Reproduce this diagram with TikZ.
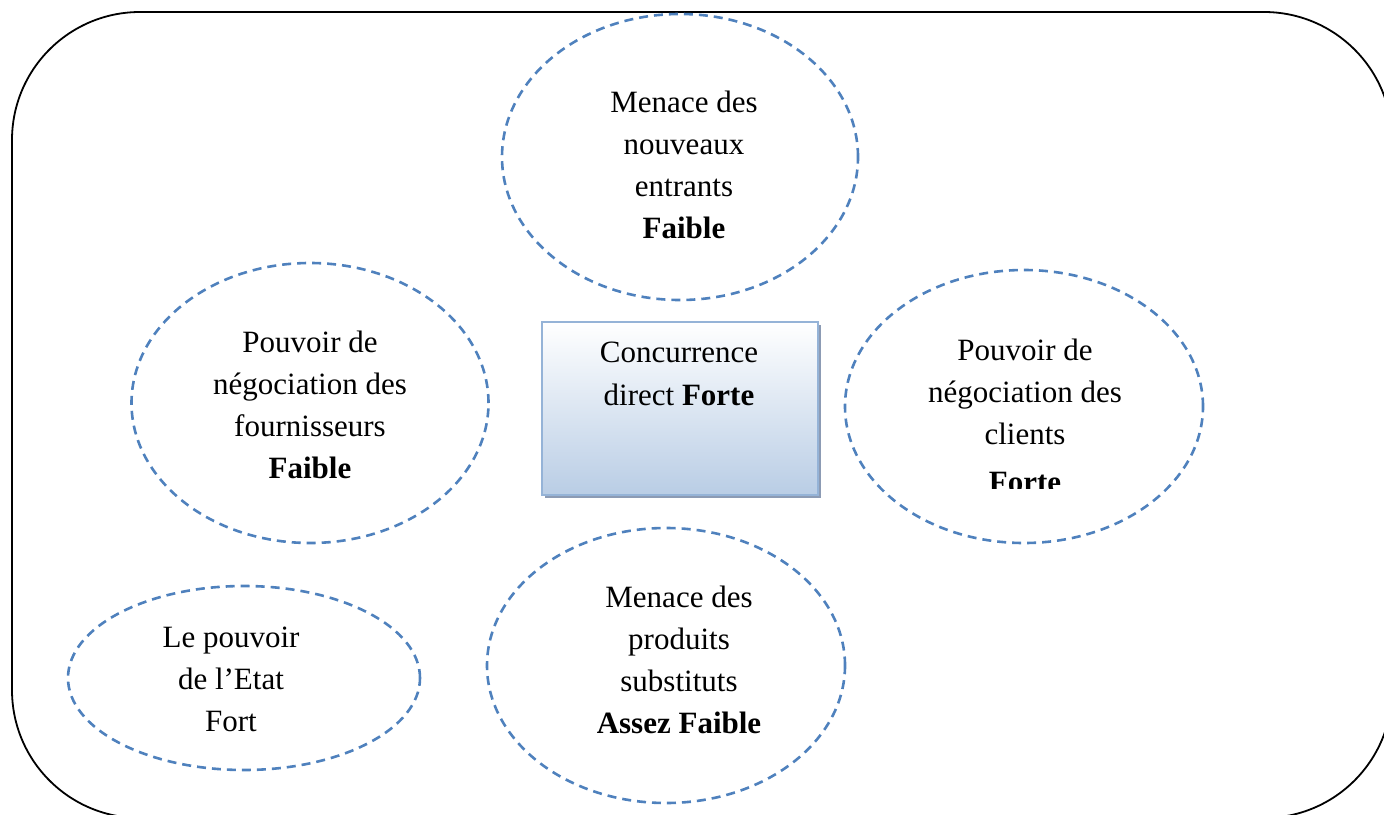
\documentclass[tikz,border=0pt]{standalone}
\usepackage{fontspec}
\setmainfont{Liberation Serif}
\usetikzlibrary{shapes.geometric,shadows}
\definecolor{dashblue}{RGB}{79,129,189}
\definecolor{boxborder}{RGB}{149,179,215}
\definecolor{boxbottom}{RGB}{185,205,229}
\definecolor{boxshadow}{RGB}{140,155,180}
\newcommand{\stacklines}[1]{\begin{tabular}[t]{@{}c@{}}#1\end{tabular}}
\tikzset{
  force/.style={ellipse, draw=dashblue, line width=2.6pt, dash pattern=on 9pt off 6pt, inner sep=0pt},
  label text/.style={anchor=base, inner sep=0pt, font=\fontsize{31}{42}\selectfont},
  centerbox/.style={rectangle, draw=boxborder, line width=2pt, top color=white, bottom color=boxbottom,
    drop shadow={shadow xshift=3pt, shadow yshift=-3pt, fill=boxshadow, opacity=1}, inner sep=0pt},
  frame/.style={draw=black, line width=1.8pt, rounded corners=128pt}
}
\begin{document}
\begin{tikzpicture}[x=1pt,y=-1pt]
\useasboundingbox (0,0) rectangle (1384,814);
\draw[frame] (12,12) rectangle (1392,818);

% center box
\node[centerbox, minimum width=276pt, minimum height=173pt] (conc) at (680,408.5) {};
\node[label text, font=\fontsize{31}{43}\selectfont] (conctext) at (679,362) {\stacklines{Concurrence\\direct \textbf{Forte}}};

% ellipses
\node[force, minimum width=356pt, minimum height=286pt] (entrants) at (680,157) {};
\node[force, minimum width=357pt, minimum height=280pt] (fourn) at (310,403) {};
\node[force, minimum width=358pt, minimum height=273pt] (clients) at (1024,406.5) {};
\node[force, minimum width=358pt, minimum height=275pt] (subst) at (666,665.5) {};
\node[force, minimum width=352pt, minimum height=184pt] (etat) at (244,678) {};

% texts
\node[label text] (entrantstext) at (684,112) {\stacklines{Menace des\\nouveaux\\entrants\\\textbf{Faible}}};
\node[label text] (fourntext) at (310,352) {\stacklines{Pouvoir de\\négociation des\\fournisseurs\\\textbf{Faible}}};
\node[label text] (clientstext) at (1025,360) {\stacklines{Pouvoir de\\négociation des\\clients}};
\begin{scope}
\clip (900,455) rectangle (1150,488);
\node[label text] (clientsforte) at (1025,492) {\textbf{Forte}};
\end{scope}
\node[label text] (substtext) at (679,607) {\stacklines{Menace des\\produits\\substituts\\\textbf{Assez Faible}}};
\node[label text] (etattext) at (231,647) {\stacklines{Le pouvoir\\de l’Etat\\Fort}};
\end{tikzpicture}
\end{document}
